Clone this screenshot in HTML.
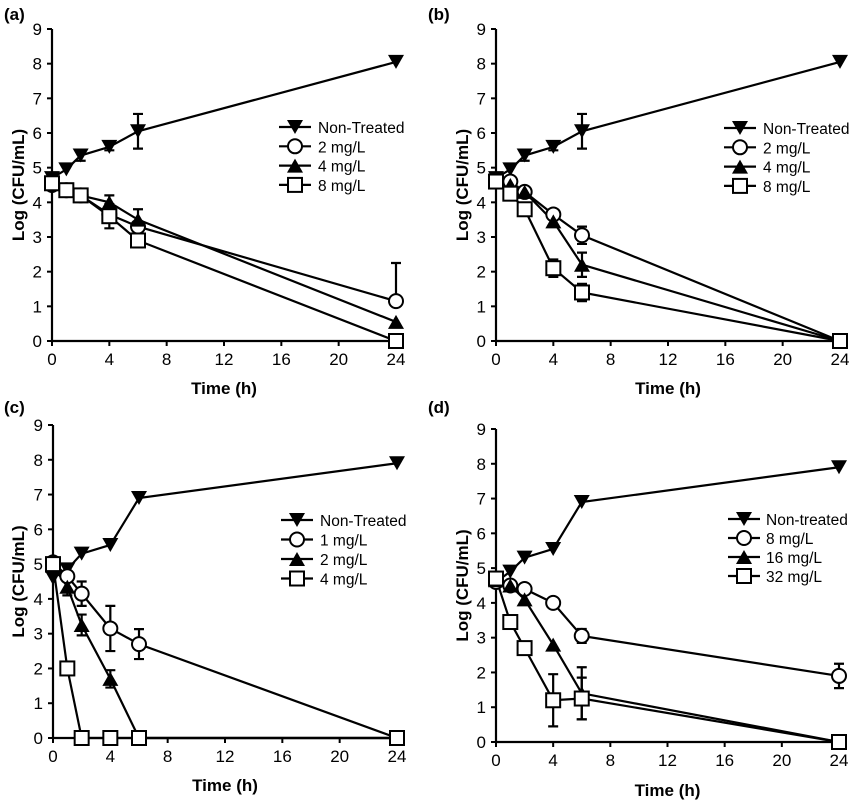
<!DOCTYPE html><html><head><style>body{margin:0;background:#fff}svg text{font-family:"Liberation Sans",Arial,sans-serif}</style></head><body>
<svg id="s" width="850" height="804" xmlns="http://www.w3.org/2000/svg"></svg>
<script>
const P=[
{lab:"(a)",lx:4,ly:20,x0:52,x24:396,y0:341,y9:29,ylx:24,tly:394,leg:[295,318,127,19.3],names:["Non-Treated","2 mg/L","4 mg/L","8 mg/L"],
 s:[[[0,4.7],[1,4.95],[2,5.35,.15],[4,5.6,.1],[6,6.05,.5],[24,8.05]],
    [[0,4.5],[1,4.35],[2,4.2],[4,3.65],[6,3.3],[24,1.15,1.1,1]],
    [[0,4.6],[1,4.35],[2,4.2],[4,4.0,.2],[6,3.5,.3],[24,.55]],
    [[0,4.55],[1,4.35],[2,4.2],[4,3.6,.35],[6,2.9,.2],[24,0]]]},
{lab:"(b)",lx:428,ly:20,x0:496,x24:840,y0:341,y9:29,ylx:468,tly:394,leg:[740,763,128,19.3],names:["Non-Treated","2 mg/L","4 mg/L","8 mg/L"],
 s:[[[0,4.7],[1,4.95],[2,5.35,.15],[4,5.6,.1],[6,6.05,.5],[24,8.05]],
    [[0,4.65],[1,4.6],[2,4.3],[4,3.65],[6,3.05,.25],[24,0]],
    [[0,4.6],[1,4.5],[2,4.3],[4,3.45],[6,2.2,.35],[24,0]],
    [[0,4.6],[1,4.25],[2,3.8],[4,2.1,.25],[6,1.4,.25],[24,0]]]},
{lab:"(c)",lx:4,ly:413,x0:53,x24:397,y0:738,y9:425,ylx:24,tly:791,leg:[297,320,520,19.5],names:["Non-Treated","1 mg/L","2 mg/L","4 mg/L"],
 s:[[[0,4.6],[1,4.85],[2,5.3],[4,5.55],[6,6.9],[24,7.9]],
    [[0,5.05],[1,4.65],[2,4.15,.35],[4,3.15,.65],[6,2.7,.43],[24,0]],
    [[0,4.95],[1,4.35,.25],[2,3.25,.3],[4,1.7,.25],[6,0],[24,0]],
    [[0,5.0],[1,2.0],[2,0],[4,0],[6,0],[24,0]]]},
{lab:"(d)",lx:428,ly:413,x0:496,x24:839,y0:742,y9:429,ylx:468,tly:796,leg:[744,766,519,19],names:["Non-treated","8 mg/L","16 mg/L","32 mg/L"],
 s:[[[0,4.6],[1,4.9],[2,5.3],[4,5.55],[6,6.9],[24,7.9]],
    [[0,4.6],[1,4.5],[2,4.4],[4,4.0],[6,3.05,.2],[24,1.9,.35]],
    [[0,4.65],[1,4.5],[2,4.1],[4,2.8],[6,1.4,.75],[24,0]],
    [[0,4.7],[1,3.45],[2,2.7],[4,1.2,.75],[6,1.25,.6],[24,0]]]}];
let h="";
function mk(t,x,y){const r=7;
 if(t==0)return `<polygon points="${x-8},${y-7} ${x+8},${y-7} ${x},${y+7}" fill="#000"/>`;
 if(t==1)return `<circle cx="${x}" cy="${y}" r="${r}" fill="#fff" stroke="#000" stroke-width="2"/>`;
 if(t==2)return `<polygon points="${x-8},${y+7} ${x+8},${y+7} ${x},${y-7}" fill="#000"/>`;
 return `<rect x="${x-7}" y="${y-7}" width="14" height="14" fill="#fff" stroke="#000" stroke-width="2"/>`;}
for(const p of P){
 const X=t=>p.x0+(p.x24-p.x0)*t/24,Y=v=>p.y0+(p.y9-p.y0)*v/9;
 h+=`<text x="${p.lx}" y="${p.ly}" font-size="17" font-weight="bold">${p.lab}</text>`;
 h+=`<path d="M${p.x0},${p.y9}V${p.y0}H${p.x24}" fill="none" stroke="#000" stroke-width="2.2"/>`;
 for(let i=0;i<=9;i++){h+=`<line x1="${p.x0-5}" x2="${p.x0}" y1="${Y(i)}" y2="${Y(i)}" stroke="#000" stroke-width="2"/><text x="${p.x0-10}" y="${Y(i)+6}" font-size="17" text-anchor="end">${i}</text>`;}
 for(let t=0;t<=24;t+=4){h+=`<line x1="${X(t)}" x2="${X(t)}" y1="${p.y0}" y2="${p.y0+5}" stroke="#000" stroke-width="2"/><text x="${X(t)}" y="${p.y0+24}" font-size="17" text-anchor="middle">${t}</text>`;}
 const cy=(p.y0+p.y9)/2;
 h+=`<text transform="translate(${p.ylx},${cy}) rotate(-90)" font-size="17" font-weight="bold" text-anchor="middle">Log (CFU/mL)</text>`;
 h+=`<text x="${(p.x0+p.x24)/2}" y="${p.tly}" font-size="17" font-weight="bold" text-anchor="middle">Time (h)</text>`;
 p.s.forEach((s,k)=>{
  h+=`<polyline points="${s.map(d=>X(d[0])+","+Y(d[1])).join(" ")}" fill="none" stroke="#000" stroke-width="2.2"/>`;
  s.forEach(d=>{if(d[2]){const x=X(d[0]),a=Y(d[1]+d[2]),b=d[3]?Y(d[1]):Y(d[1]-d[2]);
   h+=`<path d="M${x},${a}V${b}M${x-5},${a}H${x+5}${d[3]?"":`M${x-5},${b}H${x+5}`}" stroke="#000" stroke-width="2.2" fill="none"/>`;}});
 });
 p.s.forEach((s,k)=>s.forEach(d=>h+=mk(k,X(d[0]),Y(d[1]))));
 const [mx,tx,ty,dy]=p.leg;
 p.names.forEach((n,k)=>{const y=ty+k*dy;
  h+=`<line x1="${mx-16}" x2="${mx+16}" y1="${y}" y2="${y}" stroke="#000" stroke-width="2.2"/>`+mk(k,mx,y)+`<text x="${tx}" y="${y+6}" font-size="15.5">${n}</text>`;});
}
document.getElementById("s").innerHTML=h;
</script></body></html>
